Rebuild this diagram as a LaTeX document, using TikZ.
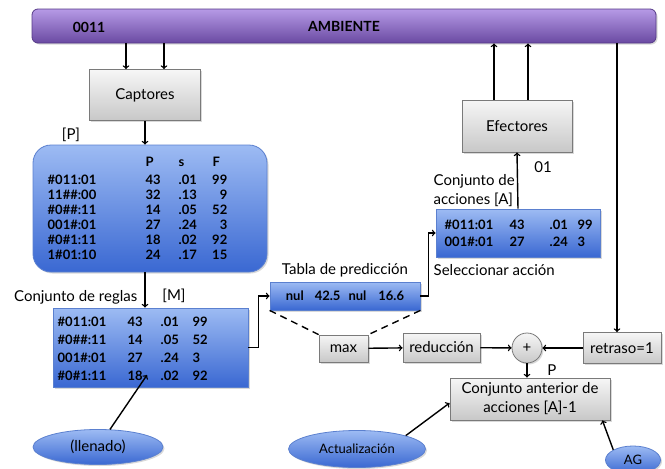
\documentclass[tikz,border=0pt]{standalone}
\usepackage{fontspec}
\setmainfont{Lato}
\usetikzlibrary{shapes.geometric,shadows}

\definecolor{bluetop}{HTML}{9DBBF3}
\definecolor{bluebot}{HTML}{3A68D2}
\definecolor{blueline}{HTML}{5B80CF}
\definecolor{purtop}{HTML}{B69AE6}
\definecolor{purbot}{HTML}{6A4AA2}
\definecolor{purline}{HTML}{563A88}
\definecolor{graytop}{HTML}{F6F6F6}
\definecolor{graybot}{HTML}{C8C8C8}
\definecolor{grayline}{HTML}{7A7A7A}

\begin{document}
\begin{tikzpicture}[x=1pt,y=-1pt,inner sep=0pt,line width=1.4pt,>=to,
	lbl/.style={font=\fontsize{15}{19}\selectfont},
	dat/.style={font=\bfseries\fontsize{13}{15}\selectfont},
	shad/.style={drop shadow={opacity=0.3,shadow xshift=1.5pt,shadow yshift=-1.5pt}},
	gbox/.style={rectangle,draw=grayline,line width=0.8pt,top color=graytop,bottom color=graybot,lbl,shad},
	bbox/.style={rectangle,draw=blueline,line width=0.8pt,top color=bluetop,bottom color=bluebot,shad},
	bell/.style={ellipse,draw=blueline,line width=0.8pt,top color=bluetop,bottom color=bluebot,lbl,shad},
	amb/.style={rectangle,rounded corners=6pt,draw=purline,line width=0.8pt,top color=purtop,bottom color=purbot,font=\bfseries\fontsize{14}{16}\selectfont,shad}]
	
	\useasboundingbox (0,0) rectangle (665,469);
	
	% ambiente
	\node at (344,26) [amb,minimum width=624pt,minimum height=34pt] (ambiente) {AMBIENTE};
	\node at (89,27) [font=\bfseries\fontsize{14}{16}\selectfont] (estado) {0011};
	
	\node at (145,95) [gbox,minimum width=111pt,minimum height=51pt] (capt) {Captores};
	\node at (517,126) [gbox,minimum width=110pt,minimum height=52pt] (efec) {Efectores};
	
	% conjuntos
	\node at (150,208.5) [bbox,rounded corners=18pt,minimum width=234pt,minimum height=127pt] (reglas) {};
	\node at (150.5,347.5) [bbox,minimum width=195pt,minimum height=79pt] (mset) {};
	\node at (345,296) [bbox,minimum width=150pt,minimum height=28pt,dat] (tabla) {nul\hspace{11pt}42.5\hspace{8pt}nul\hspace{12pt}16.6};
	\node at (518,233) [bbox,minimum width=164pt,minimum height=48pt] (acc) {};
	
	\node at (343.5,348.5) [gbox,minimum width=49pt,minimum height=27pt] (maxb) {max};
	\node at (441.5,347.5) [gbox,minimum width=77pt,minimum height=29pt] (redu) {reducción};
	\node at (527,348) [circle,draw=grayline,line width=0.8pt,top color=graytop,bottom color=graybot,lbl,shad,minimum size=30pt] (suma) {+};
	\node at (622,348) [gbox,minimum width=78pt,minimum height=31pt] (retraso) {retraso=1};
	\node at (530,399) [gbox,minimum width=160pt,minimum height=42pt,align=center] (anterior) {Conjunto anterior de\\acciones [A]-1};
	
	\node at (98,447) [bell,minimum width=130pt,minimum height=35pt] (llenado) {(llenado)};
	\node at (357,449) [bell,minimum width=137pt,minimum height=37pt,font=\fontsize{13}{15}\selectfont] (actual) {Actualización};
	\node at (633,460) [bell,minimum width=55pt,minimum height=28pt,font=\fontsize{13}{15}\selectfont] (ag) {AG};
	
	% etiquetas
	\node at (71,135) [lbl] (lp) {[P]};
	\node at (138,297) [lbl,anchor=east] (lreglas) {Conjunto de reglas};
	\node at (174,296) [lbl] (lm) {[M]};
	\node at (345,270) [lbl] (ltabla) {Tabla de predicción};
	\node at (433,191) [lbl,anchor=west,align=left] (lacc) {Conjunto de\\acciones [A]};
	\node at (543,167) [lbl] (l01) {01};
	\node at (433,270) [lbl,anchor=west] (lsel) {Seleccionar acción};
	\node at (552,370) [lbl] (lpsum) {P};
	
	% reglas
	\node at (145,166.5) [dat,anchor=base west] (hp) {P};
	\node at (178,166.5) [dat,anchor=base west] (hs) {s};
	\node at (212,166.5) [dat,anchor=base west] (hf) {F};
	\foreach \c/\p/\s/\f [count=\i] in {\#011:01/43/.01/99,11\#\#:00/32/.13/9,\#0\#\#:11/14/.05/52,001\#:01/27/.24/3,\#0\#1:11/18/.02/92,1\#01:10/24/.17/15}{
		\node at (47,169.5+15*\i) [dat,anchor=base west] (ra\i) {\c};
		\node at (145,169.5+15*\i) [dat,anchor=base west] (rb\i) {\p};
		\node at (178,169.5+15*\i) [dat,anchor=base west] (rc\i) {\s};
		\node at (228,169.5+15*\i) [dat,anchor=base east] (rd\i) {\f};
	}
	
	\foreach \c/\p/\s/\f [count=\i] in {\#011:01/43/.01/99,\#0\#\#:11/14/.05/52,001\#:01/27/.24/3,\#0\#1:11/18/.02/92}{
		\node at (57,308.5+18*\i) [dat,anchor=base west] (ma\i) {\c};
		\node at (127,308.5+18*\i) [dat,anchor=base west] (mb\i) {\p};
		\node at (160,308.5+18*\i) [dat,anchor=base west] (mc\i) {\s};
		\node at (192,308.5+18*\i) [dat,anchor=base west] (md\i) {\f};
	}
	
	\foreach \c/\p/\s/\f [count=\i] in {\#011:01/43/.01/99,001\#:01/27/.24/3}{
		\node at (444,212.5+17*\i) [dat,anchor=base west] (aa\i) {\c};
		\node at (509,212.5+17*\i) [dat,anchor=base west] (ab\i) {\p};
		\node at (549,212.5+17*\i) [dat,anchor=base west] (ac\i) {\s};
		\node at (577,212.5+17*\i) [dat,anchor=base west] (ad\i) {\f};
	}
	
	% flechas
	\draw[->] ([xshift=-19pt]capt.north |- ambiente.south) -- ([xshift=-19pt]capt.north);
	\draw[->] ([xshift=19pt]capt.north |- ambiente.south) -- ([xshift=19pt]capt.north);
	\draw[->] ([xshift=-23pt]efec.north) -- ([xshift=-23pt]efec.north |- ambiente.south);
	\draw[->] ([xshift=11pt]efec.north) -- ([xshift=11pt]efec.north |- ambiente.south);
	\draw[->] ([xshift=-5pt]retraso.north |- ambiente.south) -- ([xshift=-5pt]retraso.north);
	
	\draw[->] (capt.south) -- (capt.south |- reglas.north);
	\draw[->] (capt.south |- reglas.south) -- (capt.south |- mset.north);
	\draw[->] (mset.east) -- ++(10,0) |- (tabla.west);
	\draw[->] (tabla.east) -- ++(8,0) |- (acc.west);
	\draw[->] (acc.north) -- (efec.south);
	
	\draw[dash pattern=on 7pt off 5pt] (tabla.south west) -- (maxb.north west);
	\draw[dash pattern=on 7pt off 5pt] (tabla.south east) -- (maxb.north east);
	\draw[->] (maxb) -- (redu);
	\draw[->] (redu) -- (suma);
	\draw[->] (retraso) -- (suma);
	\draw[->] (suma.south) -- (suma.south |- anterior.north);
	
	\coordinate (fillpt) at (147,375);
	\draw[->] (llenado) -- (fillpt);
	\draw[->] (actual.north east) -- ([yshift=-4pt]anterior.west);
	\draw[->] (ag.north west) -- ([xshift=-8pt]anterior.south east);
	
\end{tikzpicture}
\end{document}
